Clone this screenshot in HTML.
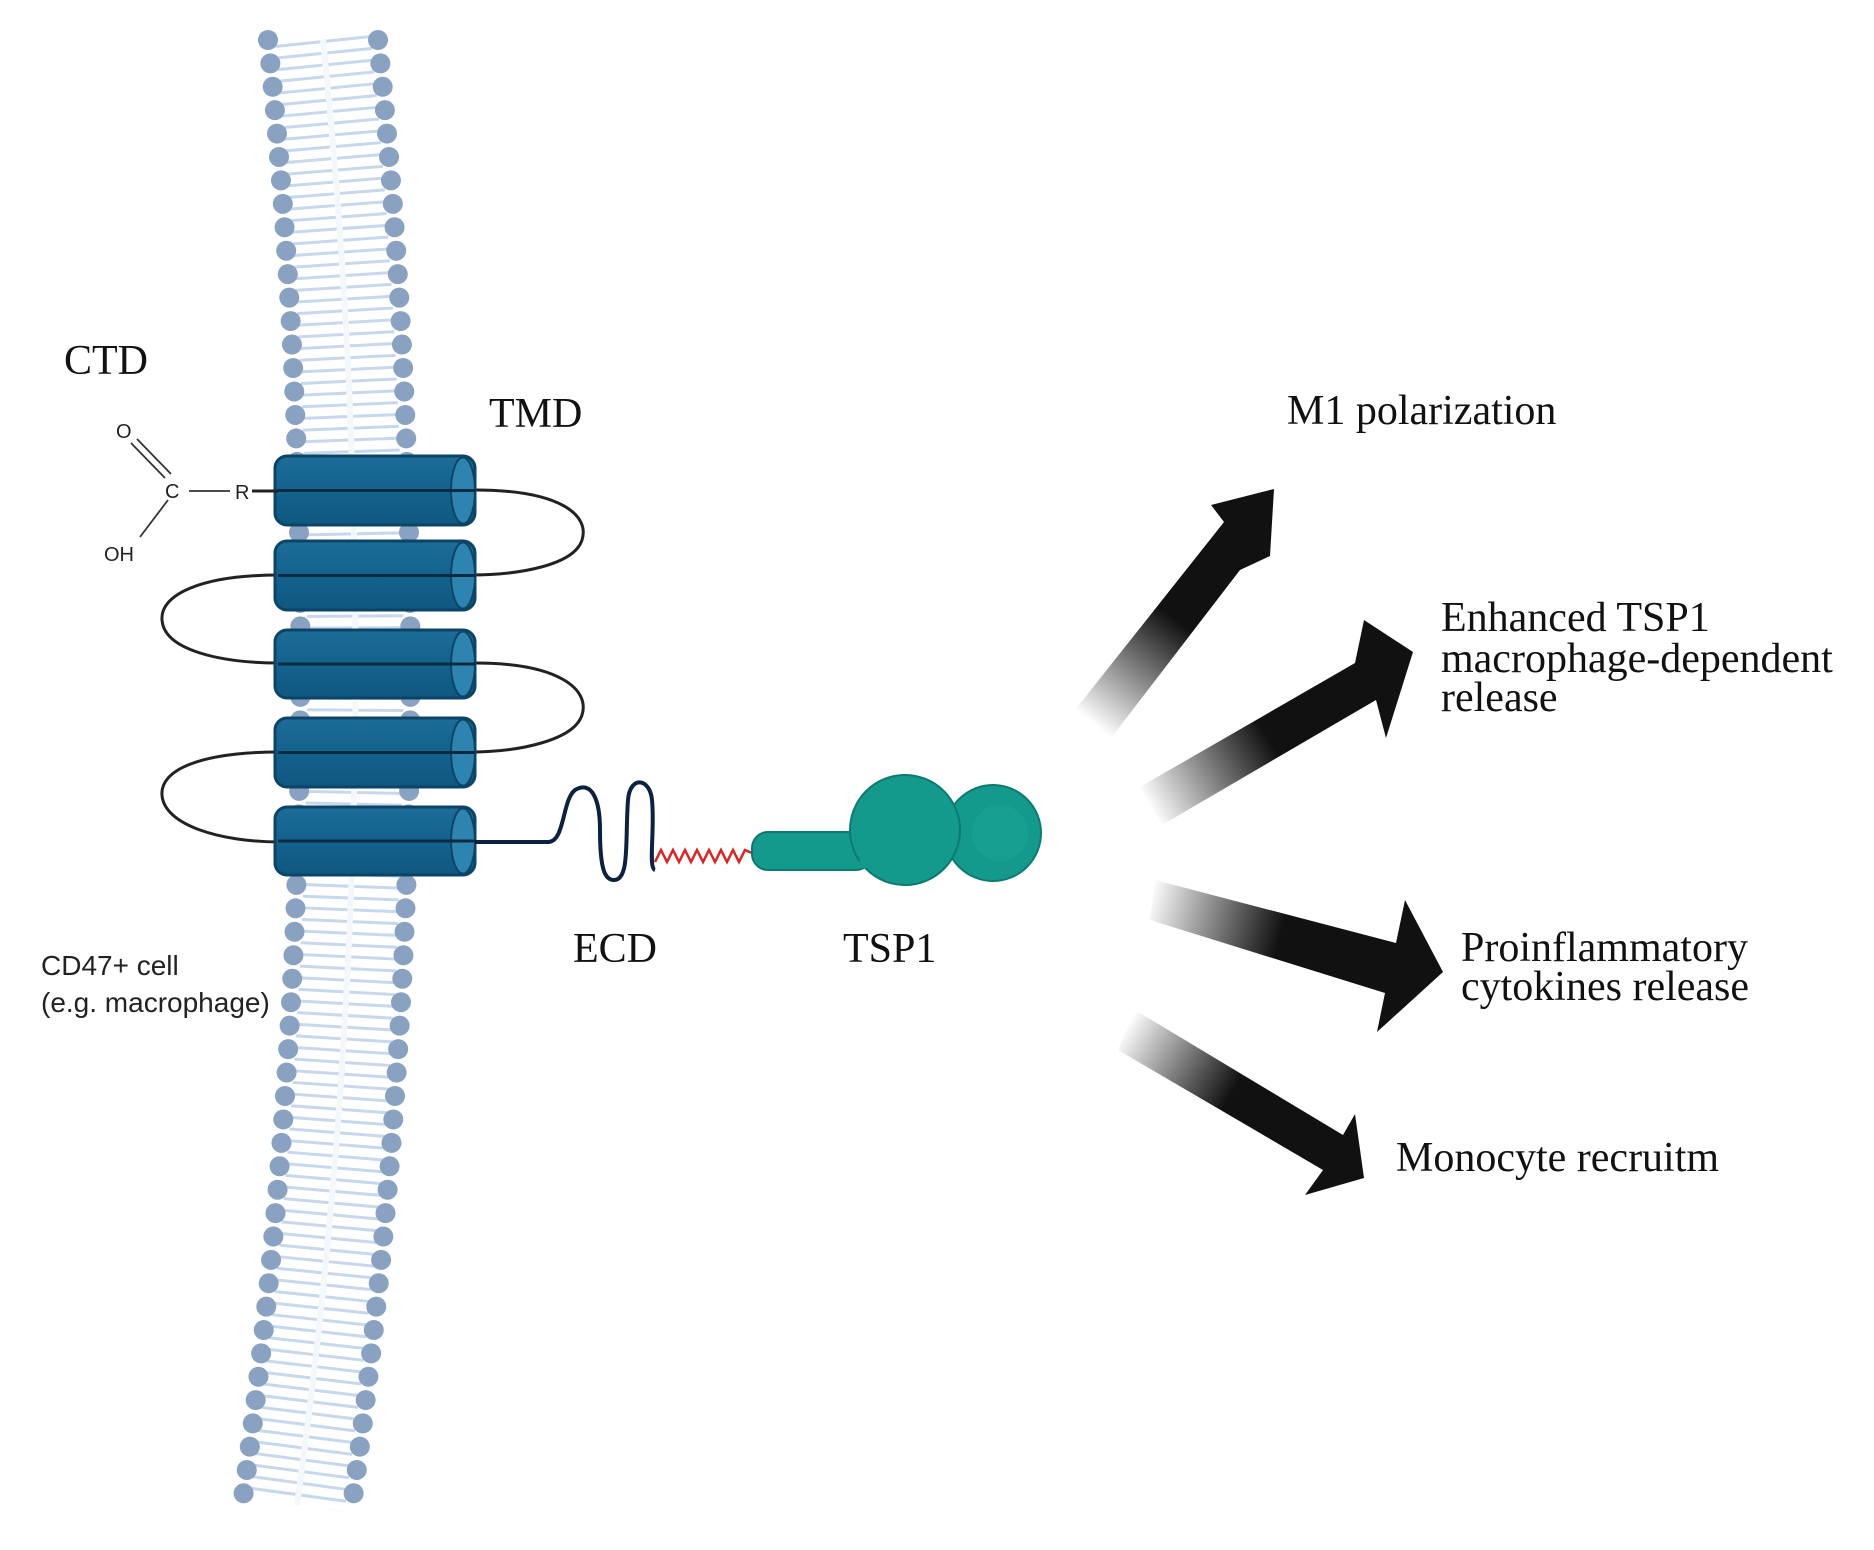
<!DOCTYPE html>
<html><head><meta charset="utf-8"><style>
html,body{margin:0;padding:0;background:#fff;}
svg{display:block;}
.serif{font-family:"Liberation Serif",serif;fill:#111;}
.sans{font-family:"Liberation Sans",sans-serif;fill:#222;}
</style></head><body>
<svg width="1874" height="1550" viewBox="0 0 1874 1550" xmlns="http://www.w3.org/2000/svg">
<defs>
<linearGradient id="cyl" x1="0" y1="0" x2="0" y2="1">
<stop offset="0" stop-color="#1d6d98"/><stop offset="0.5" stop-color="#13628e"/><stop offset="1" stop-color="#0f5880"/>
</linearGradient>
<linearGradient id="g1" gradientUnits="userSpaceOnUse" x1="1093" y1="724" x2="1274" y2="489"><stop offset="0" stop-color="#000" stop-opacity="0"/><stop offset="0.45" stop-color="#111"/><stop offset="1" stop-color="#111"/></linearGradient>
<linearGradient id="g2" gradientUnits="userSpaceOnUse" x1="1150" y1="808" x2="1413" y2="652"><stop offset="0" stop-color="#000" stop-opacity="0"/><stop offset="0.45" stop-color="#111"/><stop offset="1" stop-color="#111"/></linearGradient>
<linearGradient id="g3" gradientUnits="userSpaceOnUse" x1="1150" y1="895" x2="1443" y2="972"><stop offset="0" stop-color="#000" stop-opacity="0"/><stop offset="0.45" stop-color="#111"/><stop offset="1" stop-color="#111"/></linearGradient>
<linearGradient id="g4" gradientUnits="userSpaceOnUse" x1="1125" y1="1028" x2="1364" y2="1171"><stop offset="0" stop-color="#000" stop-opacity="0"/><stop offset="0.45" stop-color="#111"/><stop offset="1" stop-color="#111"/></linearGradient>
</defs>

<!-- membrane -->
<g fill="none">
<path d="M323 40 Q399 770 297 1505" stroke="#c8d8ec" stroke-width="96" stroke-dasharray="3 8.75"/>
<path d="M323 40 Q399 770 297 1505" stroke="#f4f8fc" stroke-width="6"/>
<path d="M268 40 Q344 770 242 1505" stroke="#8aa2c2" stroke-width="20" stroke-linecap="round" stroke-dasharray="0 23.5"/>
<path d="M378 40 Q454 770 352 1505" stroke="#8aa2c2" stroke-width="20" stroke-linecap="round" stroke-dasharray="0 23.5"/>
</g>

<!-- loops -->
<g fill="none" stroke="#222" stroke-width="3">
<path d="M475 490 C560 490 590 515 582 540 C574 565 520 575 470 575"/>
<path d="M280 575 C200 575 160 595 162 620 C164 650 220 663 280 663"/>
<path d="M475 663 C560 663 590 690 582 715 C574 740 520 752 470 752"/>
<path d="M280 752 C200 752 160 770 162 795 C164 825 220 842 280 842"/>
</g>

<!-- cylinders -->
<g>
<rect x="275" y="456" width="200" height="69" rx="12" fill="url(#cyl)" stroke="#0b4467" stroke-width="3"/>
<ellipse cx="463" cy="490.5" rx="12" ry="33" fill="#2d84b0" stroke="#0b4467" stroke-width="2"/>
<line x1="278" y1="490.5" x2="475" y2="490.5" stroke="#0a2a40" stroke-width="3"/>
<rect x="275" y="541" width="200" height="69" rx="12" fill="url(#cyl)" stroke="#0b4467" stroke-width="3"/>
<ellipse cx="463" cy="575.5" rx="12" ry="33" fill="#2d84b0" stroke="#0b4467" stroke-width="2"/>
<line x1="278" y1="575.5" x2="475" y2="575.5" stroke="#0a2a40" stroke-width="3"/>
<rect x="275" y="630" width="200" height="68" rx="12" fill="url(#cyl)" stroke="#0b4467" stroke-width="3"/>
<ellipse cx="463" cy="664" rx="12" ry="32.5" fill="#2d84b0" stroke="#0b4467" stroke-width="2"/>
<line x1="278" y1="664" x2="475" y2="664" stroke="#0a2a40" stroke-width="3"/>
<rect x="275" y="718" width="200" height="69" rx="12" fill="url(#cyl)" stroke="#0b4467" stroke-width="3"/>
<ellipse cx="463" cy="752.5" rx="12" ry="33" fill="#2d84b0" stroke="#0b4467" stroke-width="2"/>
<line x1="278" y1="752.5" x2="475" y2="752.5" stroke="#0a2a40" stroke-width="3"/>
<rect x="275" y="807" width="200" height="68" rx="12" fill="url(#cyl)" stroke="#0b4467" stroke-width="3"/>
<ellipse cx="463" cy="841" rx="12" ry="32.5" fill="#2d84b0" stroke="#0b4467" stroke-width="2"/>
<line x1="278" y1="841" x2="475" y2="841" stroke="#0a2a40" stroke-width="3"/>
</g>

<!-- chemistry -->
<g class="sans" font-size="20">
<text x="116" y="438">O</text>
<text x="165" y="498">C</text>
<text x="235" y="499">R</text>
<text x="104" y="561">OH</text>
</g>
<g stroke="#333" stroke-width="1.8">
<line x1="131" y1="443" x2="165" y2="478"/><line x1="137" y1="439" x2="171" y2="474"/>
<line x1="168" y1="500" x2="140" y2="537"/>
<line x1="189" y1="491" x2="230" y2="491"/>
<line x1="252" y1="491" x2="278" y2="491" stroke="#222" stroke-width="3"/>
</g>

<!-- ECD -->
<path d="M475 842 L548 842 C565 842 562 800 575 790 C592 780 600 800 600 830 C600 870 605 880 614 880 C630 880 625 840 628 800 C630 775 650 778 652 800 C655 830 648 868 655 870" fill="none" stroke="#0b2140" stroke-width="4"/>
<polyline fill="none" stroke="#d22" stroke-width="2.5" points="655,862 661,850 667,862 673,850 679,862 685,850 691,862 697,850 703,862 709,850 715,862 721,850 727,862 733,850 739,862 745,850 752,853"/>

<!-- TSP1 -->
<g fill="#139a8c" stroke="#0c7a70" stroke-width="2">
<rect x="752" y="832" width="120" height="38" rx="16"/>
<circle cx="993" cy="833" r="48"/>
<circle cx="905" cy="830" r="55"/>
</g>
<rect x="860" y="834" width="30" height="34" fill="#139a8c"/>
<circle cx="1000" cy="833" r="28" fill="#1aa596" opacity="0.6"/>

<!-- arrows -->
<g>
<polygon fill="url(#g1)" points="1075,710 1111,738 1240,570 1270,556 1274,489 1211,505 1224,522"/>
<polygon fill="url(#g2)" points="1140,787 1162,825 1376,700 1386,738 1413,652 1364,620 1355,663"/>
<polygon fill="url(#g3)" points="1155,880 1150,920 1385,993 1377,1032 1443,972 1405,900 1396,943"/>
<polygon fill="url(#g4)" points="1135,1010 1118,1050 1323,1170 1305,1195 1364,1178 1355,1114 1343,1135"/>
</g>

<!-- labels -->
<g class="serif" font-size="42">
<text x="64" y="374">CTD</text>
<text x="489" y="427">TMD</text>
<text x="573" y="962">ECD</text>
<text x="843" y="962">TSP1</text>
<text x="1287" y="424">M1 polarization</text>
<text x="1441" y="631">Enhanced TSP1</text>
<text x="1441" y="672">macrophage-dependent</text>
<text x="1441" y="711">release</text>
<text x="1461" y="961">Proinflammatory</text>
<text x="1461" y="1000">cytokines release</text>
<text x="1396" y="1171">Monocyte recruitm</text>
</g>
<g class="sans" font-size="28">
<text x="41" y="975">CD47+ cell</text>
<text x="41" y="1012">(e.g. macrophage)</text>
</g>
</svg>
</body></html>
